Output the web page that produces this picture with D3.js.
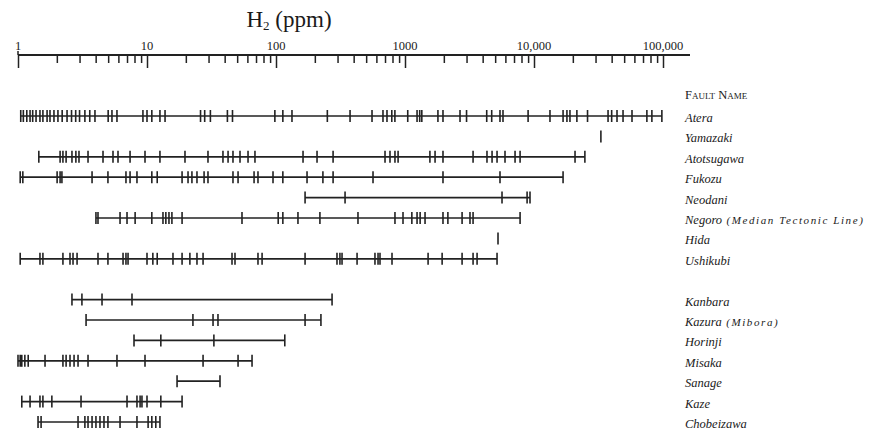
<!DOCTYPE html>
<html>
<head>
<meta charset="utf-8">
<script src="https://cdn.jsdelivr.net/npm/d3@7"></script>
<style>
  html, body { margin: 0; padding: 0; background: #fff; }
  svg { display: block; }
  text { font-family: "Liberation Serif", "DejaVu Serif", serif; fill: #1a1a1a; }
</style>
</head>
<body>
<svg id="chart" width="895" height="435"></svg>
<script>
// H2 concentrations (ppm) measured along each fault
const atera = [1.05, 1.1, 1.17, 1.24, 1.3, 1.38, 1.48, 1.56, 1.68, 1.77, 1.9, 2.04, 2.2, 2.4, 2.6, 2.8, 3.0, 3.3, 3.6, 3.95, 5.0, 5.35, 5.85, 9.3, 10, 10.9, 12.6, 13.8, 26, 28, 31, 42, 46, 98, 113, 133, 250, 375, 555, 675, 725, 790, 835, 1050, 1240, 1300, 1350, 1800, 1970, 2670, 3000, 4300, 4700, 5450, 5750, 9000, 13300, 16800, 18000, 19000, 21500, 26000, 37500, 40000, 44000, 49000, 57500, 75000, 82000, 98000];
const yamazaki = [33000];
const atotsugawa = [1.45, 2.12, 2.23, 2.36, 2.62, 2.81, 2.97, 3.49, 4.56, 5.45, 5.96, 7.39, 9.65, 12.6, 19.7, 29.7, 38.8, 42.5, 46.4, 52.6, 60.7, 68.7, 162, 208, 277, 700, 765, 836, 884, 1560, 1710, 1970, 3370, 4320, 4730, 5170, 5960, 7130, 7800, 20800, 24800];
const fukozu = [1.04, 1.09, 2.01, 2.12, 2.19, 3.75, 4.98, 6.87, 7.39, 8.36, 10.9, 12.0, 18.7, 20.8, 22.3, 24.4, 27.7, 29.7, 46.4, 50.8, 67.6, 72.5, 94.8, 113, 174, 231, 277, 565, 1970, 5450, 16800];
const neodani = [168, 343, 5650, 8840, 9310];
const negoro = [4.02, 4.17, 6.18, 7.0, 8.09, 10.9, 13.3, 14.0, 14.8, 15.6, 18.7, 54.5, 104, 113, 148, 219, 432, 836, 965, 1130, 1240, 1310, 1430, 1970, 2150, 2770, 3190, 3370, 7800];
const hida = [5260];
const ushikubi = [1.04, 1.48, 1.56, 2.23, 2.53, 2.67, 2.87, 4.17, 4.98, 6.52, 6.87, 7.13, 10.0, 11.1, 12.0, 15.9, 18.7, 21.5, 24.4, 27.2, 45.6, 48.1, 72.5, 78.0, 168, 297, 313, 325, 425, 585, 618, 640, 793, 1510, 1940, 2770, 3370, 3620, 5170];
const kanbara = [2.62, 3.13, 4.48, 7.65, 272];
const kazura = [3.37, 22.7, 32.5, 35.5, 168, 223];
const horinji = [7.93, 12.8, 33.0, 117];
const misaka = [1.0, 1.04, 1.07, 1.13, 1.2, 1.62, 2.23, 2.36, 2.53, 2.72, 2.92, 3.49, 5.85, 9.65, 27.2, 50.8, 65.2];
const sanage = [17.1, 36.8];
const kaze = [1.07, 1.24, 1.48, 1.56, 1.83, 3.08, 7.0, 8.36, 8.84, 9.14, 10, 12.8, 18.7];
const chobeizawa = [1.43, 1.51, 2.92, 3.3, 3.49, 3.75, 4.02, 4.32, 4.64, 4.98, 6.18, 8.36, 10.2, 10.9, 11.7, 12.6];

// Fault names, in drawing order; an empty name leaves a gap between the two groups
const faultNames = ["Atera", "Yamazaki", "Atotsugawa", "Fukozu", "Neodani", "Negoro", "Hida", "Ushikubi", "",
  "Kanbara", "Kazura", "Horinji", "Misaka", "Sanage", "Kaze", "Chobeizawa"];
const faultNotes = { "Negoro": "(Median Tectonic Line)", "Kazura": "(Mibora)" };
const faultSeries = [atera, yamazaki, atotsugawa, fukozu, neodani, negoro, hida, ushikubi, null,
  kanbara, kazura, horinji, misaka, sanage, kaze, chobeizawa];

// Axis ticks
const majorTicks = [1, 10, 100, 1000, 10000, 100000];
const majorLabels = ["1", "10", "100", "1000", "10,000", "100,000"];

const svg = d3.select("#chart");

const x = d3.scaleLog().domain([1, 100000]).range([18, 663]);
const y = d3.scalePoint().domain(faultNames.map((n, i) => i)).range([116, 422]);
const axisY = 55;
const ink = "#222";

// ---- title
const title = svg.append("text")
  .attr("x", 289).attr("y", 27)
  .attr("text-anchor", "middle")
  .style("font-size", "23px");
title.append("tspan").text("H");
title.append("tspan").text("2").style("font-size", "13px").attr("dy", 3);
title.append("tspan").text(" (ppm)").attr("dy", -3);

// ---- top scale
const minorTicks = [];
majorTicks.slice(0, -1).forEach(d => { for (let k = 2; k <= 9; k++) minorTicks.push(d * k); });

const axisG = svg.append("g").attr("transform", `translate(0,${axisY})`);

axisG.append("g")
  .call(d3.axisBottom(x).tickValues(minorTicks).tickSize(8).tickFormat(""))
  .call(g => g.select(".domain").remove());

axisG.append("g")
  .call(d3.axisBottom(x).tickValues(majorTicks).tickSize(13).tickFormat(""))
  .call(g => g.select(".domain").remove());

axisG.selectAll(".tick line").attr("stroke", ink).attr("stroke-width", 1.5);

axisG.append("line")
  .attr("x1", x.range()[0]).attr("x2", x.range()[1] + 27)
  .attr("stroke", ink).attr("stroke-width", 1.8);

// the origin tick also rises above the line
axisG.append("line")
  .attr("x1", x(1)).attr("x2", x(1)).attr("y1", -4).attr("y2", 0)
  .attr("stroke", ink).attr("stroke-width", 1.5);

axisG.selectAll(".major-label")
  .data(majorTicks)
  .join("text")
  .attr("class", "major-label")
  .attr("x", d => x(d))
  .attr("y", -5)
  .attr("text-anchor", "middle")
  .style("font-size", "12.5px")
  .text((d, i) => majorLabels[i]);

// ---- fault ranges
const rows = faultNames.map((name, i) => ({ name, values: faultSeries[i], idx: i }))
  .filter(r => r.values);

const rowG = svg.selectAll(".fault")
  .data(rows)
  .join("g")
  .attr("class", "fault")
  .attr("transform", d => `translate(0,${y(d.idx)})`);

rowG.filter(d => d.values.length > 1)
  .append("line")
  .attr("x1", d => x(d3.min(d.values)))
  .attr("x2", d => x(d3.max(d.values)))
  .attr("stroke", ink).attr("stroke-width", 1.7);

rowG.selectAll(".obs")
  .data(d => d.values)
  .join("line")
  .attr("class", "obs")
  .attr("x1", v => x(v)).attr("x2", v => x(v))
  .attr("y1", -6).attr("y2", 6)
  .attr("stroke", ink).attr("stroke-width", 1.6);

// ---- names
svg.append("text")
  .attr("x", 685).attr("y", y(0) - 17)
  .style("font-size", "12.5px")
  .style("font-variant", "small-caps")
  .text("Fault Name");

const labels = svg.selectAll(".fault-name")
  .data(rows)
  .join("text")
  .attr("class", "fault-name")
  .attr("x", 685)
  .attr("y", d => y(d.idx) + 6)
  .style("font-size", "12.5px")
  .style("font-style", "italic");
labels.append("tspan").text(d => d.name);
labels.filter(d => faultNotes[d.name])
  .append("tspan")
  .style("font-size", "11px")
  .style("letter-spacing", "1.6px")
  .text(d => " " + faultNotes[d.name]);
</script>
</body>
</html>
